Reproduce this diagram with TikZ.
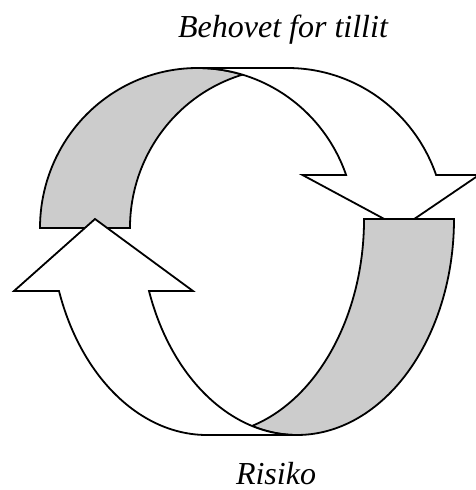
\documentclass[tikz,border=0pt]{standalone}
\usepackage{fontspec}
\setmainfont{Liberation Serif}
\definecolor{bandgray}{RGB}{204,204,204}
\begin{document}
\begin{tikzpicture}[x=1pt,y=-1pt,
  outline/.style={draw=black,line width=1.8pt,line join=miter},
  backband/.style={outline,fill=bandgray},
  frontband/.style={outline,fill=white},
  caption/.style={font=\fontsize{32}{38}\selectfont\itshape,inner sep=0pt,anchor=base}]
\useasboundingbox (0,0) rectangle (476,490);

% upper curved arrow: two equal ellipses offset by the band width
% E1 centre (197.5,228), E2 centre (287.5,228), radii 157.5 x 160
\path[backband] (40,228)
  arc[start angle=180,end angle=286.6,x radius=157.5,y radius=160]
  arc[start angle=253.4,end angle=180,x radius=157.5,y radius=160] -- cycle;
\path[frontband] (197.5,68) -- (287.5,68)
  arc[start angle=270,end angle=340.65,x radius=157.5,y radius=160]
  -- (479,175) -- (401,228) -- (302.5,175) -- (346.1,175)
  arc[start angle=340.65,end angle=270,x radius=157.5,y radius=160] -- cycle;

% lower curved arrow: E3 centre (297,219), E4 centre (207,219), radii 157 x 216
\path[backband] (454,219)
  arc[start angle=0,end angle=106.65,x radius=157,y radius=216]
  arc[start angle=73.35,end angle=0,x radius=157,y radius=216] -- cycle;
\path[frontband] (297,435) -- (207,435)
  arc[start angle=90,end angle=160.53,x radius=157,y radius=216]
  -- (14,291) -- (95,219) -- (193,291) -- (149,291)
  arc[start angle=160.53,end angle=90,x radius=157,y radius=216] -- cycle;

\node[caption] (need) at (283,37) {Behovet for tillit};
\node[caption] (risk) at (276,484) {Risiko};
\end{tikzpicture}
\end{document}
